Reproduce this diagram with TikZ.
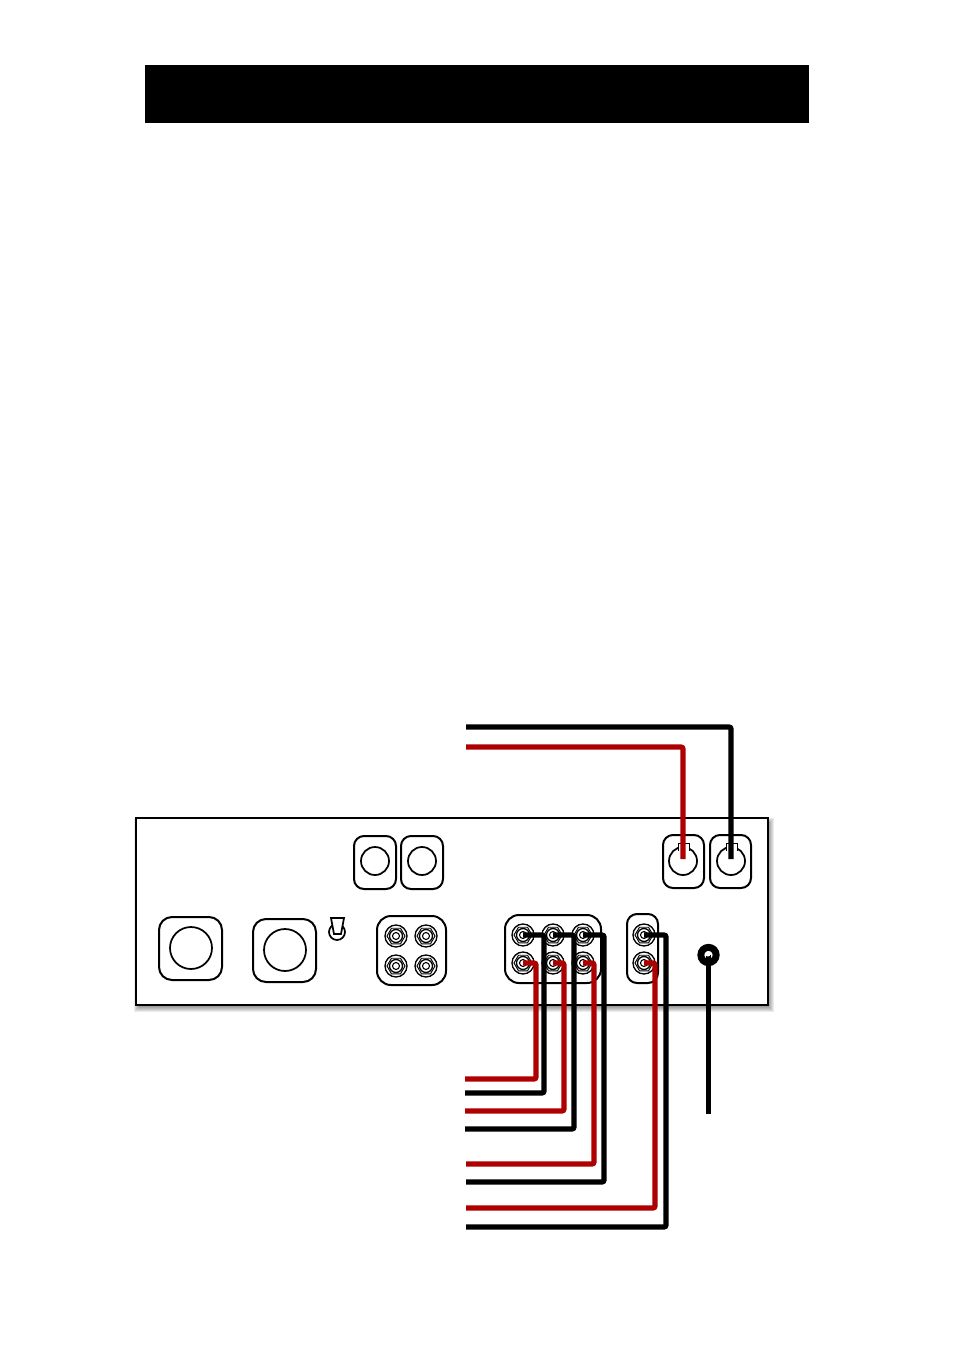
\documentclass[tikz,border=0pt]{standalone}
\usepackage{tikz}
\usetikzlibrary{calc,shapes.geometric}
\definecolor{cablered}{RGB}{174,0,0}
\tikzset{
	panelbox/.style 2 args={draw,rounded corners=10*0.75pt,line width=1.5pt,inner sep=0pt,outer sep=0pt,minimum width={#1*0.75pt},minimum height={#2*0.75pt}},
	hole/.style={draw,circle,line width=1.3pt,inner sep=0pt,outer sep=0pt,minimum size={#1*1.5pt}},
	wireblack/.style={line width=3.9pt,black,rounded corners=1.5pt},
	wirered/.style={line width=3.9pt,cablered,rounded corners=1.5pt}
}
\newcommand{\jack}[2]{
	\node[hole=11,line width=1pt] (#1) at (#2) {};
	\node[draw,regular polygon,regular polygon sides=6,line width=0.7pt,inner sep=0pt,minimum size=13.5pt] (#1hex) at (#2) {};
	\node[hole=6.5,line width=1pt] (#1out) at (#2) {};
	\node[hole=3.5,line width=0.8pt] (#1in) at (#2) {};
}
\begin{document}
\begin{tikzpicture}[x=0.75pt,y=-0.75pt]
	\useasboundingbox (0,0) rectangle (954,1350);
	%TITLE BAR
	\node[fill=black,inner sep=0pt,minimum width=498pt,minimum height=43.5pt] (title) at (477,94) {};
	%PANEL
	\foreach \s in {0,...,6}
		\fill[black,opacity=0.08] ({140-\s},{824-\s}) rectangle ({768+\s},{1006+\s});
	\node[panelbox={632}{187},fill=white,rounded corners=0pt] (panel) at (452,911.5) {};
	%UPPER SOCKETS
	\node[panelbox={42}{53}] (boxa) at (375,862.5) {};
	\node[panelbox={42}{53}] (boxb) at (422,862.5) {};
	\node[hole=14] (holea) at (375,861) {};
	\node[hole=14] (holeb) at (422,861) {};
	\node[panelbox={41}{53}] (boxc) at (683.5,861.5) {};
	\node[panelbox={41}{53}] (boxd) at (730.5,861.5) {};
	\node[hole=14] (holec) at (683,861) {};
	\node[hole=14] (holed) at (731,861) {};
	\draw[line width=0.6pt,fill=white] (678,851) -- (678,843) -- (689,843) -- (689,851);
	\draw[line width=0.6pt,fill=white] (726,851) -- (726,843) -- (737,843) -- (737,851);
	%LOWER SOCKETS
	\node[panelbox={63}{63},rounded corners=13*0.75pt] (boxe) at (190.5,948.5) {};
	\node[panelbox={63}{63},rounded corners=13*0.75pt] (boxf) at (284.5,950.5) {};
	\node[hole=21] (holee) at (191,948) {};
	\node[hole=21] (holef) at (285,950) {};
	%SWITCH
	\node[hole=8] (switch) at (337,932) {};
	\draw[line width=1.3pt,fill=white] (331,918) -- (344,918) -- (341,934) -- (334,934) -- cycle;
	%JACK GROUPS
	\node[panelbox={69}{69},rounded corners=14*0.75pt] (boxg) at (411.5,950.5) {};
	\jack{ga}{396,936}
	\jack{gb}{426,936}
	\jack{gc}{396,966}
	\jack{gd}{426,966}
	\node[panelbox={96}{68},rounded corners=14*0.75pt] (boxh) at (553,949) {};
	\jack{ha}{523,935}
	\jack{hb}{553,935}
	\jack{hc}{583,935}
	\jack{hd}{523,963}
	\jack{he}{553,963}
	\jack{hf}{583,963}
	\node[panelbox={31}{69}] (boxi) at (642.5,948.5) {};
	\jack{ia}{644,935}
	\jack{ib}{644,963}
	%GROUND POST
	\node[circle,draw,line width=5.2pt,inner sep=0pt,minimum size=11.5pt] (post) at (708.5,955) {};
	%FREE ENDS
	\coordinate (topblack) at (466,727);
	\coordinate (topred) at (466,747);
	\coordinate (ea) at (465,1079);
	\coordinate (eb) at (465,1093);
	\coordinate (ec) at (465,1111);
	\coordinate (ed) at (465,1129);
	\coordinate (ee) at (466,1164);
	\coordinate (ef) at (466,1182);
	\coordinate (eg) at (466,1208);
	\coordinate (eh) at (466,1227);
	\coordinate (epost) at (708.5,1114);
	%WIRES
	\draw[wirered] (holec.center) ++(0,-2) |- (topred);
	\draw[wireblack] (holed.center) ++(0,-2) |- (topblack);
	\draw[wirered] (hd.center) -- ++(13,0) |- (ea);
	\draw[wirered] (he.center) -- ++(11,0) |- (ec);
	\draw[wirered] (hf.center) -- ++(11,0) |- (ee);
	\draw[wirered] (ib.center) -- ++(11,0) |- (eg);
	\draw[wireblack] (ha.center) -- ++(21,0) |- (eb);
	\draw[wireblack] (hb.center) -- ++(21,0) |- (ed);
	\draw[wireblack] (hc.center) -- ++(21,0) |- (ef);
	\draw[wireblack] (ia.center) -- ++(22,0) |- (eh);
	\draw[line width=3.6pt] (post.center) -- (epost);
	\fill[white] (708,954) circle (2.5);
\end{tikzpicture}
\end{document}
